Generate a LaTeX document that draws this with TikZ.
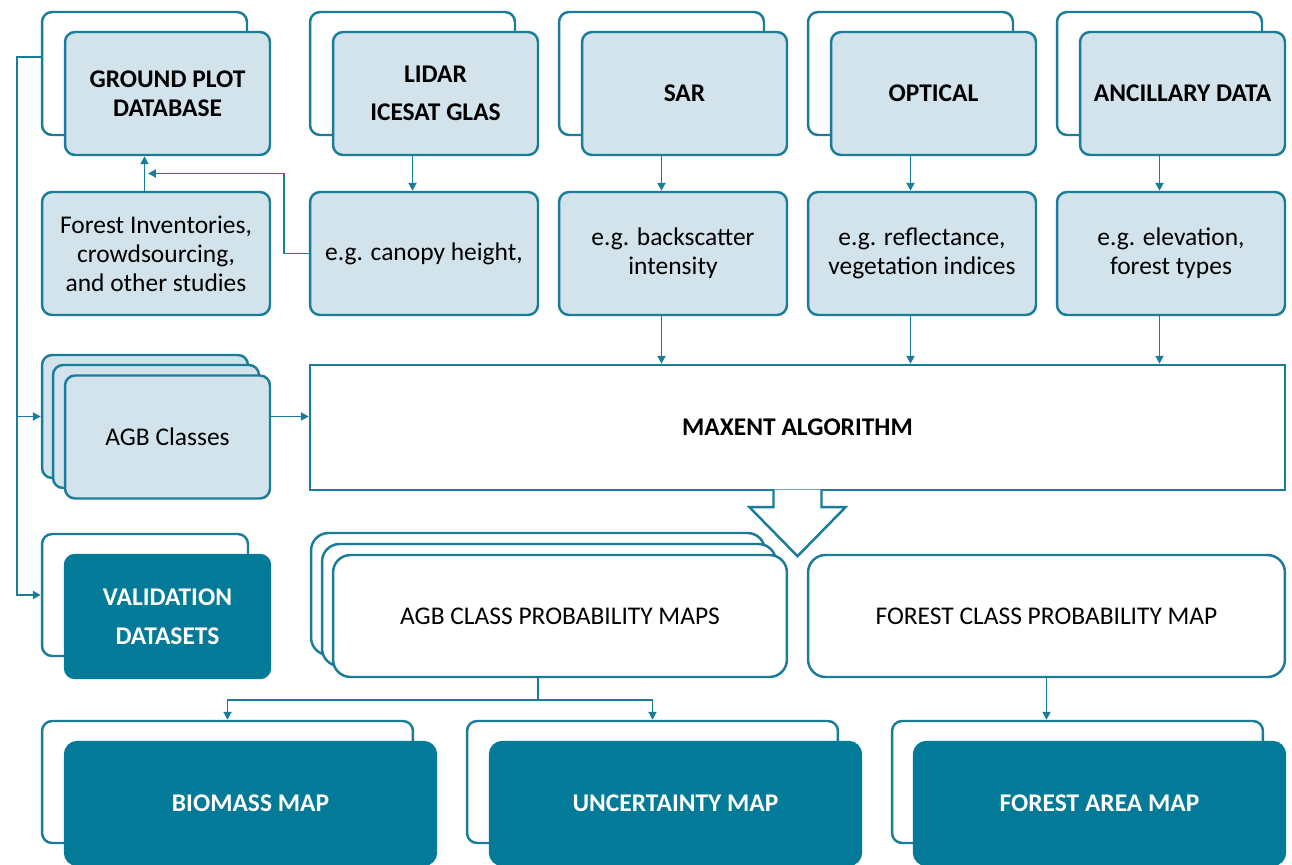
\documentclass[tikz,border=0pt]{standalone}
\usepackage{fontspec}
\setmainfont{Carlito}
\usetikzlibrary{arrows.meta, calc, positioning}
\definecolor{tealline}{RGB}{26,124,153}
\definecolor{tealdark}{RGB}{3,122,152}
\definecolor{bluefill}{RGB}{210,227,235}

\begin{document}
\begin{tikzpicture}[
    x=0.02cm, y=-0.02cm,
    % text and boxes
    txt/.style={font=\fontsize{14.5}{16.5}\selectfont},
    box/.style={rectangle, rounded corners=2mm, draw=tealline, line width=1.4pt, align=center, text=black, txt},
    backbox/.style={box, fill=white, minimum width=4.1cm, minimum height=2.46cm},
    srcbox/.style={box, fill=bluefill, minimum width=4.1cm, minimum height=2.46cm, font=\fontsize{14.5}{16.5}\selectfont\bfseries},
    descbox/.style={box, fill=bluefill, minimum width=4.56cm, minimum height=2.46cm},
    mapbox/.style={box, fill=white, rounded corners=3.5mm, minimum width=9.08cm, minimum height=2.44cm},
    outbox/.style={box, fill=tealdark, draw=tealdark, text=white, rounded corners=2.5mm, minimum width=7.42cm, minimum height=2.46cm, font=\fontsize{14.5}{16.5}\selectfont\bfseries},
    % connectors
    link/.style={draw=tealline, line width=1.1pt},
    arrow/.style={link, -{Triangle[length=1.6mm, width=1.6mm]}},
    blockarrow/.style={draw=tealline, line width=1.4pt, fill=white, line join=miter}
    ]

    \useasboundingbox (0,0) rectangle (1292,865);

    % Source boxes (back copies first)
    \node (gpB)  [backbox] at (144.5,73.5) {};
    \node (lidB) [backbox] at (412.5,73.5) {};
    \node (sarB) [backbox] at (661.5,73.5) {};
    \node (optB) [backbox] at (910.5,73.5) {};
    \node (ancB) [backbox] at (1159.5,73.5) {};
    \node (gp)  [srcbox] at (167.5,93.5) {GROUND PLOT\\DATABASE};
    \node (lid) [srcbox] at (435.5,93.5) {LIDAR\\[5pt]ICESAT GLAS};
    \node (sar) [srcbox] at (684.5,93.5) {SAR};
    \node (opt) [srcbox] at (933.5,93.5) {OPTICAL};
    \node (anc) [srcbox] at (1182.5,93.5) {ANCILLARY DATA};

    % Description boxes
    \node (inv)  [descbox] at (156,253.5) {Forest Inventories,\\crowdsourcing,\\and other studies};
    \node (can)  [descbox] at (424,253.5) {e.g. canopy height,};
    \node (sard) [descbox] at (673,253.5) {e.g. backscatter\\intensity};
    \node (optd) [descbox] at (922,253.5) {e.g. reflectance,\\vegetation indices};
    \node (ancd) [descbox] at (1171,253.5) {e.g. elevation,\\forest types};

    % Maxent
    \node (maxent) [box, rounded corners=0pt, fill=white, minimum width=19.5cm, minimum height=2.5cm,
        font=\fontsize{14.5}{16.5}\selectfont\bfseries] at (797.5,427.5) {MAXENT ALGORITHM};

    % AGB classes and validation
    \node (agbB) [backbox, fill=bluefill, minimum width=4.12cm] at (145,416.5) {};
    \node (agbM) [backbox, fill=bluefill, minimum width=4.12cm] at (156,426.5) {};
    \node (agb)  [descbox, minimum width=4.1cm] at (167.5,437) {AGB Classes};
    \node (valB) [backbox, minimum width=4.12cm, minimum height=2.44cm] at (145,595) {};
    \node (val)  [outbox, minimum width=4.1cm, rounded corners=2mm] at (167.5,616.5) {VALIDATION\\[6pt]DATASETS};

    % Probability maps
    \node (pmB) [mapbox] at (538,594) {};
    \node (pmM) [mapbox] at (549,605) {};
    \node (pm)  [mapbox] at (560,616) {AGB CLASS PROBABILITY MAPS};
    \node (fc)  [mapbox, minimum width=9.54cm] at (1046.5,616) {FOREST CLASS PROBABILITY MAP};

    % Output maps
    \node (bmB) [backbox, minimum width=7.42cm, minimum height=2.44cm] at (227.5,782) {};
    \node (unB) [backbox, minimum width=7.42cm, minimum height=2.44cm] at (652.5,782) {};
    \node (faB) [backbox, minimum width=7.42cm, minimum height=2.44cm] at (1077.5,782) {};
    \node (bm) [outbox] at (250.5,803.5) {BIOMASS MAP};
    \node (un) [outbox] at (675.5,803.5) {UNCERTAINTY MAP};
    \node (fa) [outbox] at (1099.5,803.5) {FOREST AREA MAP};

    % Connectors
    \draw [arrow] ([yshift=3.3mm]gpB.west) -- ++(-4.8mm,0) coordinate (bus) |- (valB.west);
    \draw [arrow] (bus |- agbB.west) -- (agbB.west);

    \draw [arrow] (gpB |- inv.north) -- (gpB |- gp.south);
    \coordinate (join) at ($(gpB |- gp.south)!.5!(gpB |- inv.north)$);
    \draw [arrow] (can.west) -- ++(-5mm,0) |- ([xshift=0.7mm]join);

    \draw [arrow] (lidB |- lid.south) -- (lidB |- can.north);
    \draw [arrow] (sarB |- sar.south) -- (sarB |- sard.north);
    \draw [arrow] (optB |- opt.south) -- (optB |- optd.north);
    \draw [arrow] (ancB |- anc.south) -- (ancB |- ancd.north);

    \draw [arrow] (sarB |- sard.south) -- (sarB |- maxent.north);
    \draw [arrow] (optB |- optd.south) -- (optB |- maxent.north);
    \draw [arrow] (ancB |- ancd.south) -- (ancB |- maxent.north);

    \draw [arrow] (agb.east |- agbB.west) -- (maxent.west |- agbB.west);

    % Block arrow below the algorithm
    \draw [blockarrow] (maxent.south) ++(-24,-1.5) -- ++(0,17.5) -- ++(-24,0) -- ++(48,49)
        -- ++(48,-49) -- ++(-24,0) -- ++(0,-17.5);

    \draw [link] (pmB |- pm.south) -- ++(0,22) coordinate (split);
    \draw [arrow] (split) -| (bmB.north);
    \draw [arrow] (split) -| (unB.north);
    \draw [arrow] (fc.south) -- (fc.south |- faB.north);

\end{tikzpicture}
\end{document}
